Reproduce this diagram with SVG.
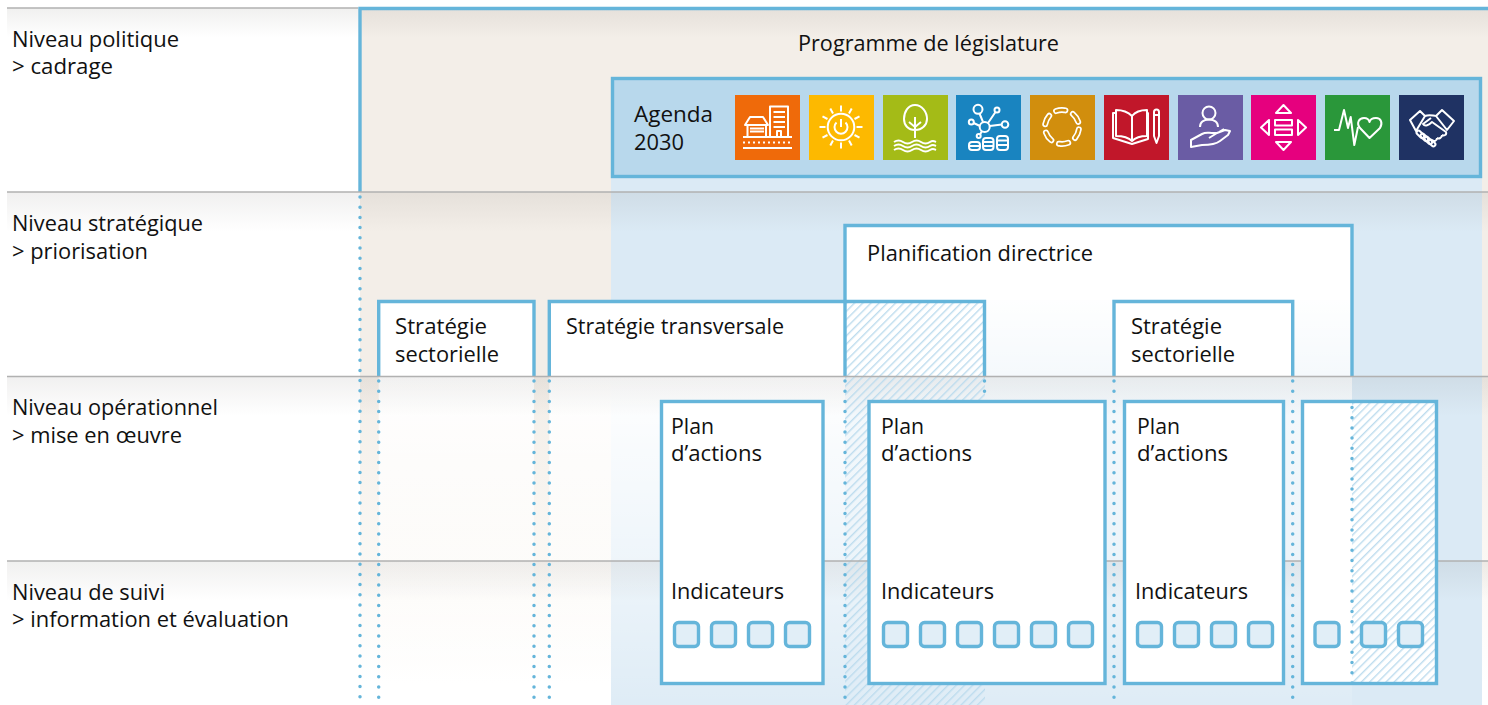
<svg xmlns="http://www.w3.org/2000/svg" width="1488" height="705" viewBox="0 0 1488 705">
<style>
text{font-family:"Open Sans","Noto Sans","Liberation Sans",sans-serif;font-size:21.6px;fill:#111}
.b{fill:none;stroke:#65b5da;stroke-width:3.4}
.w{fill:#fff;stroke:none}
.sq{fill:#e1eef7;stroke:#65b5da;stroke-width:3.4}
.g{stroke:#b1b1b1;stroke-width:1.6;fill:none}
.d{stroke:#65b5da;stroke-width:3.5;stroke-linecap:round;stroke-dasharray:0 10.2;fill:none}
.i path,.i circle,.i rect,.i ellipse,.i line{fill:none;stroke:#fff;stroke-width:2;stroke-linejoin:round}
</style>
<defs>
<linearGradient id="beige" x1="0" y1="8" x2="0" y2="705" gradientUnits="userSpaceOnUse"><stop offset="0" stop-color="#f3eee8"/><stop offset=".53" stop-color="#f3eee8"/><stop offset=".8" stop-color="#fbf8f4"/><stop offset=".97" stop-color="#fff"/></linearGradient>
<linearGradient id="fadeA" x1="0" y1="376" x2="0" y2="705" gradientUnits="userSpaceOnUse"><stop offset="0" stop-color="#fff"/><stop offset=".55" stop-color="#fff" stop-opacity=".55"/><stop offset="1" stop-color="#fff" stop-opacity=".1"/></linearGradient>
<linearGradient id="fadeB" x1="0" y1="225" x2="0" y2="705" gradientUnits="userSpaceOnUse"><stop offset="0" stop-color="#fff"/><stop offset=".14" stop-color="#fff"/><stop offset=".315" stop-color="#fff" stop-opacity=".72"/><stop offset=".69" stop-color="#fff" stop-opacity=".5"/><stop offset="1" stop-color="#fff" stop-opacity=".1"/></linearGradient>
<linearGradient id="shade" x1="0" y1="0" x2="0" y2="1"><stop offset="0" stop-color="#3c3630" stop-opacity=".075"/><stop offset="1" stop-color="#3c3630" stop-opacity="0"/></linearGradient>
<pattern id="hatch" width="5.8" height="5.8" patternUnits="userSpaceOnUse" patternTransform="rotate(45)"><rect width="1.4" height="5.8" fill="#bddcee"/></pattern>
</defs>
<rect width="1488" height="705" fill="#fff"/>
<g id="backgrounds">
<rect x="360" y="8" width="1128" height="697" fill="url(#beige)"/>
<rect x="611" y="178" width="871" height="527" fill="#dbeaf5"/>
<rect x="378.7" y="376" width="155.3" height="329" fill="url(#fadeA)"/>
<rect x="549.3" y="376" width="295.7" height="329" fill="url(#fadeA)"/>
<rect x="845" y="225" width="507" height="480" fill="url(#fadeB)"/>
</g>
<g id="shadows">
<rect x="7" y="8" width="1481" height="30" fill="url(#shade)"/>
<rect x="7" y="192" width="1481" height="40" fill="url(#shade)"/>
<rect x="7" y="376" width="1481" height="40" fill="url(#shade)"/>
<rect x="7" y="561" width="1481" height="40" fill="url(#shade)"/>
</g>
<g id="programme">
<path class="b" d="M360 192V8.500H1488"/>
<text x="798" y="51" textLength="261" lengthAdjust="spacingAndGlyphs">Programme de législature</text>
</g>
<g id="planification">
<path class="w" d="M846 225H1352V300H846Z"/>
<path class="b" d="M845 376V225.500H1352V376"/>
<text x="867" y="261" textLength="226" lengthAdjust="spacingAndGlyphs">Planification directrice</text>
</g>
<g id="strategie-transversale">
<rect class="w" x="549" y="301" width="296" height="75"/>
<rect x="845" y="301" width="140" height="75" fill="#fff"/>
<rect x="845" y="301" width="140" height="404" fill="url(#hatch)"/>
<path class="b" d="M549.300 376V301.500H984.500V376"/>
<path class="b" d="M845 300V376"/>
<text x="566" y="334" textLength="218" lengthAdjust="spacingAndGlyphs">Stratégie transversale</text>
</g>
<g id="strategie-sectorielle-1">
<rect class="w" x="379" y="301" width="155" height="75"/>
<path class="b" d="M378.700 376V301.500H534V376"/>
<text x="395" y="334" textLength="92" lengthAdjust="spacingAndGlyphs">Stratégie</text>
<text x="395" y="362" textLength="104" lengthAdjust="spacingAndGlyphs">sectorielle</text>
</g>
<g id="strategie-sectorielle-2">
<rect class="w" x="1114" y="301" width="179" height="75"/>
<path class="b" d="M1114 376V301.500H1292.700V376"/>
<text x="1131" y="334" textLength="91" lengthAdjust="spacingAndGlyphs">Stratégie</text>
<text x="1131" y="362" textLength="104" lengthAdjust="spacingAndGlyphs">sectorielle</text>
</g>
<g id="levels">
<path class="g" d="M7 8H358M7 192H1488M7 376.500H1488M7 561H1488"/>
<text x="12" y="46.500" textLength="167" lengthAdjust="spacingAndGlyphs">Niveau politique</text>
<text x="12" y="74" textLength="101" lengthAdjust="spacingAndGlyphs">&gt; cadrage</text>
<text x="12" y="231" textLength="191" lengthAdjust="spacingAndGlyphs">Niveau stratégique</text>
<text x="12" y="258.500" textLength="136" lengthAdjust="spacingAndGlyphs">&gt; priorisation</text>
<text x="12" y="415" textLength="206" lengthAdjust="spacingAndGlyphs">Niveau opérationnel</text>
<text x="12" y="442.500" textLength="170" lengthAdjust="spacingAndGlyphs">&gt; mise en œuvre</text>
<text x="12" y="599.500" textLength="153" lengthAdjust="spacingAndGlyphs">Niveau de suivi</text>
<text x="12" y="627" textLength="277" lengthAdjust="spacingAndGlyphs">&gt; information et évaluation</text>
</g>
<g id="agenda-2030">
<rect x="612.500" y="78.500" width="868" height="98" fill="#b8d8ec" stroke="#65b5da" stroke-width="3.400"/>
<text x="634" y="122" textLength="79" lengthAdjust="spacingAndGlyphs">Agenda</text>
<text x="634" y="150" textLength="50" lengthAdjust="spacingAndGlyphs">2030</text>
<g class="i" transform="translate(735 95)"><rect width="65" height="65" style="fill:#ef6a0a;stroke:none"/>
<path d="M35 41V11.500H53V41M38.500 17H50M38.500 22H50M38.500 27H50M38.500 32H50M42 41V36H46V41M10 30L15 22H28L33 30ZM12.500 30V41M31 30V41M15 33.500H29M15 36.500H29M8 42H57"/><path d="M8 47.500H57" style="stroke-dasharray:2 3"/><path d="M8 53H57"/></g>
<g class="i" transform="translate(809 95)"><rect width="65" height="65" style="fill:#fdb900;stroke:none"/>
<circle cx="32" cy="32" r="13.300"/><path d="M27.500 27.500A6.500 6.500 0 1 0 36.500 27.500M32 24V32"/><path d="M32 10.500V16.500M32 47.500V53.500M10.500 32H16.500M47.500 32H53.500M21.300 13.500L24 18.500M42.700 13.500L40 18.500M13.500 21.300L18.500 24M50.500 21.300L45.500 24M13.500 42.700L18.500 40M50.500 42.700L45.500 40M21.300 50.500L24 45.500M42.700 50.500L40 45.500"/></g>
<g class="i" transform="translate(883 95)"><rect width="65" height="65" style="fill:#a4bb17;stroke:none"/>
<path d="M32 10C25 10 21 17 21 24C21 30 25 35 32 35C39 35 44 30 44 24C44 17 39 10 32 10ZM32 22V43M32 32L26 27M32 32L38 27M11 47C14 45 17 45 20 47S26 49 29 47S35 45 38 47S44 49 47 47S51 46 53 47M11 51C14 49 17 49 20 51S26 53 29 51S35 49 38 51S44 53 47 51S51 50 53 51M11 55C14 53 17 53 20 55S26 57 29 55S35 53 38 55S44 57 47 55S51 54 53 55"/></g>
<g class="i" transform="translate(956 95)"><rect width="65" height="65" style="fill:#1984c0;stroke:none"/>
<circle cx="28.700" cy="32" r="5"/><circle cx="22" cy="14.300" r="4.500"/><circle cx="41" cy="15" r="2.500"/><circle cx="49" cy="29.500" r="3.300"/><circle cx="15.300" cy="27" r="2.500"/><circle cx="22.700" cy="41" r="2"/>
<path d="M27 27L23.500 18.500M32 28L39.500 17M33.700 31L45.800 29.500M24 31L17.600 28M26 36L24 39.500"/>
<rect x="13" y="47" width="11" height="8" rx="3"/><rect x="27" y="43" width="10.500" height="12" rx="3"/><rect x="41" y="41" width="11" height="14" rx="3"/><path d="M13 51H24M27 47H37.500M27 51H37.500M41 45.500H52M41 50H52"/></g>
<g transform="translate(1030 95)"><rect width="65" height="65" fill="#d18e0d"/>
<g transform="rotate(8 32 32)"><circle cx="32" cy="32" r="17" fill="none" stroke="#fff" stroke-width="6" stroke-linecap="round" stroke-dasharray="9.500 8.300"/>
<circle cx="32" cy="32" r="17" fill="none" stroke="#d18e0d" stroke-width="2.600" stroke-linecap="round" stroke-dasharray="9.500 8.300"/></g></g>
<g class="i" transform="translate(1104 95)"><rect width="65" height="65" style="fill:#c1172a;stroke:none"/>
<path d="M28 21C23 16 17 15 12 15V41C18 41 24 42 28 46ZM28 21C32 16 38 15 43 15V41C37 41 32 42 28 46ZM12 18H9V43L28 49L44 44V18H43M50 17A2.500 2.500 0 0 1 55 17V41L52.500 48L50 41ZM50 20H55"/></g>
<g class="i" transform="translate(1178 95)"><rect width="65" height="65" style="fill:#6a5ca4;stroke:none"/>
<circle cx="31" cy="18" r="6.500"/><path d="M22 32C22 27 26 24.500 31 24.500S40 27 40 32M13 52V45L24 39C28 37 30 38 34 38L39 38L47 35L52 36L50 40L42 46C37 50 30 50 24 50ZM31 43L39 38M41 37L46 34"/></g>
<g class="i" transform="translate(1251 95)"><rect width="65" height="65" style="fill:#e6007e;stroke:none"/>
<path d="M25 18L32.500 10L40 18ZM25 47L32.500 55L40 47ZM18 25V40L10 32.500ZM47 25V40L55 32.500Z"/><rect x="24" y="25" width="17" height="5.500"/><rect x="24" y="34.500" width="17" height="5.500"/></g>
<g class="i" transform="translate(1325 95)"><rect width="65" height="65" style="fill:#2a973a;stroke:none"/>
<path d="M9 35H14L19 15L23 33L25.700 22L29.300 50L33 32"/><path d="M44.500 43L35 33C31 28 34 23 39 23C42 23 44 25 44.500 27C45 25 47 23 51 23C56 23 58 28 55 33Z"/></g>
<g class="i" transform="translate(1399 95)"><rect width="65" height="65" style="fill:#1f3263;stroke:none"/>
<path d="M11 25L21 16L26 21L17 36ZM43 15L55 26L48 35L37 21ZM26 21C31 19 34 21 37 21M32 23L24 29C26 32 30 30 33 27L47 37C48 40 45 41 43 40M43 40C43 43 40 44 38 43M38 43C38 46 35 47 33 45"/>
<rect x="19" y="35" width="4" height="9" rx="2" transform="rotate(-45 21 39)"/><rect x="23" y="38" width="4" height="9" rx="2" transform="rotate(-45 25 42)"/><rect x="27" y="41" width="4" height="9" rx="2" transform="rotate(-45 29 45)"/><rect x="31" y="44" width="4" height="8" rx="2" transform="rotate(-45 33 48)"/></g>
</g>
<g id="connectors">
<path class="d" d="M360 197V715M378.700 381V715M534 381V715M549.300 381V715M845 381V715M984.500 381V398M1114 381V715M1292.700 381V715"/>
</g>
<g id="plan-1">
<rect x="661.500" y="401.500" width="161.500" height="282" fill="#fff" stroke="#65b5da" stroke-width="3.400"/>
<text x="671" y="434" textLength="43" lengthAdjust="spacingAndGlyphs">Plan</text>
<text x="671" y="461" textLength="91" lengthAdjust="spacingAndGlyphs">d’actions</text>
<text x="671" y="599" textLength="113" lengthAdjust="spacingAndGlyphs">Indicateurs</text>
<rect class="sq" x="674.500" y="622.500" width="24" height="24" rx="4"/><rect class="sq" x="711.500" y="622.500" width="24" height="24" rx="4"/><rect class="sq" x="748.500" y="622.500" width="24" height="24" rx="4"/><rect class="sq" x="785.500" y="622.500" width="24" height="24" rx="4"/>
</g>
<g id="plan-2">
<rect x="869" y="401.500" width="236" height="282" fill="#fff" stroke="#65b5da" stroke-width="3.400"/>
<text x="881" y="434" textLength="43" lengthAdjust="spacingAndGlyphs">Plan</text>
<text x="881" y="461" textLength="91" lengthAdjust="spacingAndGlyphs">d’actions</text>
<text x="881" y="599" textLength="113" lengthAdjust="spacingAndGlyphs">Indicateurs</text>
<rect class="sq" x="883.500" y="622.500" width="24" height="24" rx="4"/><rect class="sq" x="920.500" y="622.500" width="24" height="24" rx="4"/><rect class="sq" x="957.500" y="622.500" width="24" height="24" rx="4"/><rect class="sq" x="994.500" y="622.500" width="24" height="24" rx="4"/><rect class="sq" x="1031.500" y="622.500" width="24" height="24" rx="4"/><rect class="sq" x="1068.500" y="622.500" width="24" height="24" rx="4"/>
</g>
<g id="plan-3">
<rect x="1124.500" y="401.500" width="159" height="282" fill="#fff" stroke="#65b5da" stroke-width="3.400"/>
<text x="1137" y="434" textLength="43" lengthAdjust="spacingAndGlyphs">Plan</text>
<text x="1137" y="461" textLength="91" lengthAdjust="spacingAndGlyphs">d’actions</text>
<text x="1135" y="599" textLength="113" lengthAdjust="spacingAndGlyphs">Indicateurs</text>
<rect class="sq" x="1137.500" y="622.500" width="24" height="24" rx="4"/><rect class="sq" x="1174.500" y="622.500" width="24" height="24" rx="4"/><rect class="sq" x="1211.500" y="622.500" width="24" height="24" rx="4"/><rect class="sq" x="1248.500" y="622.500" width="24" height="24" rx="4"/>
</g>
<g id="plan-4">
<rect x="1302.500" y="401.500" width="134" height="282" fill="#fff"/>
<rect x="1352" y="403" width="83" height="279" fill="url(#hatch)"/>
<path class="d" d="M1352 407.500V685"/>
<rect x="1302.500" y="401.500" width="134" height="282" fill="none" stroke="#65b5da" stroke-width="3.400"/>
<rect class="sq" x="1315" y="622.500" width="24" height="24" rx="4"/><rect class="sq" x="1361.500" y="622.500" width="24" height="24" rx="4"/><rect class="sq" x="1398.500" y="622.500" width="24" height="24" rx="4"/>
</g>
</svg>
